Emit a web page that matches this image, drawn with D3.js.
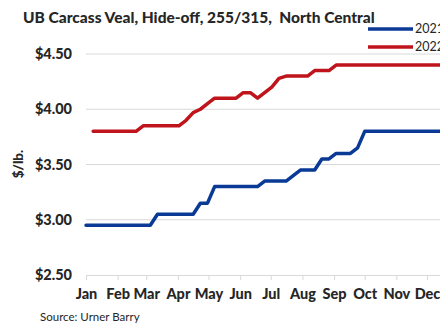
<!DOCTYPE html>
<html>
<head>
<meta charset="utf-8">
<script src="https://cdn.jsdelivr.net/npm/d3@7"></script>
<style>
  html, body { margin: 0; padding: 0; background: #fff; }
  svg { display: block; font-family: Lato, "Open Sans", sans-serif; }
</style>
</head>
<body>
<svg id="chart" width="440" height="327"></svg>
<script>
// Weekly wholesale quotes, $/lb, week 0 = first week of January
const weekDays = 7;
const series2021 = [
  2.95, 2.95, 2.95, 2.95, 2.95, 2.95, 2.95, 2.95, 2.95, 2.95,
  3.05, 3.05, 3.05, 3.05, 3.05, 3.05,
  3.15, 3.15,
  3.30, 3.30, 3.30, 3.30, 3.30, 3.30, 3.30,
  3.35, 3.35, 3.35, 3.35,
  3.40,
  3.45, 3.45, 3.45,
  3.55, 3.55,
  3.60, 3.60, 3.60,
  3.65,
  3.80, 3.80, 3.80, 3.80, 3.80, 3.80, 3.80, 3.80, 3.80, 3.80, 3.80, 3.80, 3.80, 3.80
];
// 2022 has no quote for the opening week
const series2022 = [
  null,
  3.80, 3.80, 3.80, 3.80, 3.80, 3.80, 3.80,
  3.85, 3.85, 3.85, 3.85, 3.85, 3.85,
  3.90, 3.97, 4.00, 4.05,
  4.10, 4.10, 4.10, 4.10,
  4.15, 4.15,
  4.10,
  4.15, 4.20, 4.28,
  4.30, 4.30, 4.30, 4.30,
  4.35, 4.35, 4.35,
  4.40, 4.40, 4.40, 4.40, 4.40, 4.40, 4.40, 4.40, 4.40, 4.40, 4.40, 4.40, 4.40, 4.40, 4.40, 4.40, 4.40, 4.40
];
const seriesNames = ["2021", "2022"];
const seriesColors = ["#0a3a96", "#c0141c"];
const yTicks = [2.5, 3.0, 3.5, 4.0, 4.5];

const svg = d3.select("#chart");
const start = new Date(2021, 0, 1);

const x = d3.scaleTime()
  .domain([start, new Date(2021, 11, 1)])
  .range([86, 427]);
const y = d3.scaleLinear().domain([2.5, 4.5]).range([275, 54]);

// horizontal gridlines
svg.append("g")
  .selectAll("line")
  .data(yTicks.slice(1))
  .join("line")
  .attr("x1", 86).attr("x2", 470)
  .attr("y1", d => y(d)).attr("y2", d => y(d))
  .attr("stroke", "#d9d9d9").attr("stroke-width", 1);

// y tick labels
svg.append("g")
  .selectAll("text")
  .data(yTicks)
  .join("text")
  .attr("x", 72).attr("y", d => y(d))
  .attr("dy", "0.35em")
  .attr("text-anchor", "end")
  .attr("font-size", 14.5).attr("font-weight", 900).attr("fill", "#262626")
  .text(d => "$" + d.toFixed(2));

// y axis title
svg.append("text")
  .attr("transform", "translate(23,164) rotate(-90)")
  .attr("text-anchor", "middle")
  .attr("font-size", 13.5).attr("font-weight", 900).attr("fill", "#262626")
  .text("$/lb.");

// bottom axis with month ticks
const xAxis = svg.append("g")
  .attr("transform", `translate(0,${y(2.5)})`)
  .call(d3.axisBottom(x)
    .ticks(d3.timeMonth.every(1))
    .tickFormat(d3.timeFormat("%b"))
    .tickSize(5)
    .tickPadding(9));
xAxis.select(".domain").attr("d", "M86,0.5H470").attr("stroke", "#d9d9d9");
xAxis.selectAll(".tick line").attr("stroke", "#d9d9d9");
xAxis.selectAll(".tick text")
  .attr("font-family", "Lato, sans-serif")
  .attr("font-size", 14.5).attr("font-weight", 900).attr("fill", "#262626");

// price lines
const line = d3.line()
  .defined(d => d.v != null)
  .x(d => x(d3.timeDay.offset(start, d.i * weekDays)))
  .y(d => y(d.v));

[series2021, series2022].forEach((s, k) => {
  svg.append("path")
    .datum(s.map((v, i) => ({ i, v })))
    .attr("d", line)
    .attr("fill", "none")
    .attr("stroke", seriesColors[k])
    .attr("stroke-width", 3.5)
    .attr("stroke-linejoin", "round")
    .attr("stroke-linecap", "round");
});

// title
svg.append("text")
  .attr("x", 23).attr("y", 23)
  .attr("font-size", 15.5).attr("font-weight", 900).attr("fill", "#262626")
  .text("UB Carcass Veal, Hide-off, 255/315,  North Central")
  .style("white-space", "pre");

// legend
const legend = svg.append("g")
  .selectAll("g")
  .data(seriesNames)
  .join("g")
  .attr("transform", (d, i) => `translate(368,${29 + i * 18})`);
legend.append("line")
  .attr("x1", 0).attr("x2", 45)
  .attr("stroke", (d, i) => seriesColors[i]).attr("stroke-width", 3.5);
legend.append("text")
  .attr("x", 47).attr("dy", "0.35em")
  .attr("font-size", 12.5).attr("fill", "#262626")
  .text(d => d);

// source note
svg.append("text")
  .attr("x", 40).attr("y", 321)
  .attr("font-size", 11.5).attr("fill", "#262626")
  .text("Source: Urner Barry");
</script>
</body>
</html>
